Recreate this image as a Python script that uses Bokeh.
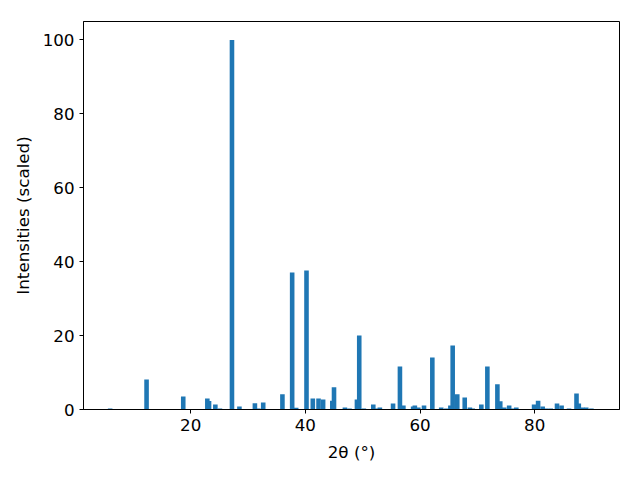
from bokeh.plotting import figure
from bokeh.models import FixedTicker
from bokeh.embed import file_html
from bokeh.resources import INLINE

two_theta = [5.95, 12.3, 18.7, 22.9, 23.2, 24.3, 25.1, 27.2, 28.5, 31.2, 31.8, 32.65,
             36.0, 37.7, 38.4, 40.2, 41.3, 42.3, 43.1, 44.7, 45.0, 46.9, 47.7, 49.0,
             49.4, 50.2, 51.85, 52.4, 53.0, 55.3, 56.5, 57.1, 58.8, 59.1, 59.7, 60.7,
             62.15, 63.7, 64.6, 65.3, 65.7, 66.5, 67.8, 68.7, 69.2, 70.7, 71.75, 73.5,
             74.0, 74.7, 75.55, 76.25, 76.8, 79.9, 80.6, 81.4, 82.0, 82.8, 83.9, 84.7,
             86.0, 87.3, 87.7, 88.3, 89.0, 89.9]
intensity = [0.3, 8.1, 3.5, 3.0, 2.3, 1.35, 0.3, 100.0, 0.8, 1.7, 0.3, 1.9,
             4.1, 37.1, 0.5, 37.6, 3.0, 3.0, 2.7, 2.4, 6.0, 0.55, 0.3, 2.7,
             20.0, 0.3, 1.35, 0.3, 0.55, 1.6, 11.65, 1.1, 0.8, 1.1, 0.55, 1.1,
             14.1, 0.55, 0.3, 1.1, 17.3, 4.1, 3.25, 0.55, 0.3, 1.35, 11.65, 6.8,
             2.2, 0.55, 1.1, 0.3, 0.55, 1.35, 2.4, 0.8, 0.3, 0.3, 1.6, 1.1,
             0.3, 4.3, 1.6, 0.55, 0.55, 0.3]
x_ticks = [20, 40, 60, 80]
y_ticks = [0, 20, 40, 60, 80, 100]

p = figure(width=640, height=480, output_backend="svg", toolbar_location=None,
           x_range=(1.3, 94.8), y_range=(0, 105),
           min_border_left=83, min_border_right=21, min_border_top=21, min_border_bottom=71)

p.vbar(x=two_theta, top=intensity, width=0.8, bottom=0,
       fill_color="#1f77b4", line_color=None)

p.xgrid.visible = False
p.ygrid.visible = False
p.outline_line_color = "black"
p.outline_line_width = 1
p.outline_line_alpha = 1

p.xaxis.ticker = FixedTicker(ticks=x_ticks)
p.yaxis.ticker = FixedTicker(ticks=y_ticks)
for ax in (p.xaxis[0], p.yaxis[0]):
    ax.minor_tick_line_color = None
    ax.major_tick_out = 4
    ax.major_tick_in = 0
    ax.major_tick_line_color = "black"
    ax.axis_line_color = "black"
    ax.major_label_text_font = "DejaVu Sans"
    ax.major_label_text_font_size = "16.7px"
    ax.major_label_text_color = "black"
    ax.axis_label_text_font = "DejaVu Sans"
    ax.axis_label_text_font_size = "16.7px"
    ax.axis_label_text_font_style = "normal"
    ax.axis_label_text_color = "black"
    ax.major_label_standoff = 5

p.xaxis.axis_label = "2θ (°)"
p.yaxis.axis_label = "Intensities (scaled)"
p.xaxis.axis_label_standoff = 8
p.yaxis.axis_label_standoff = 7

open("out.html", "w").write(file_html(p, INLINE))
